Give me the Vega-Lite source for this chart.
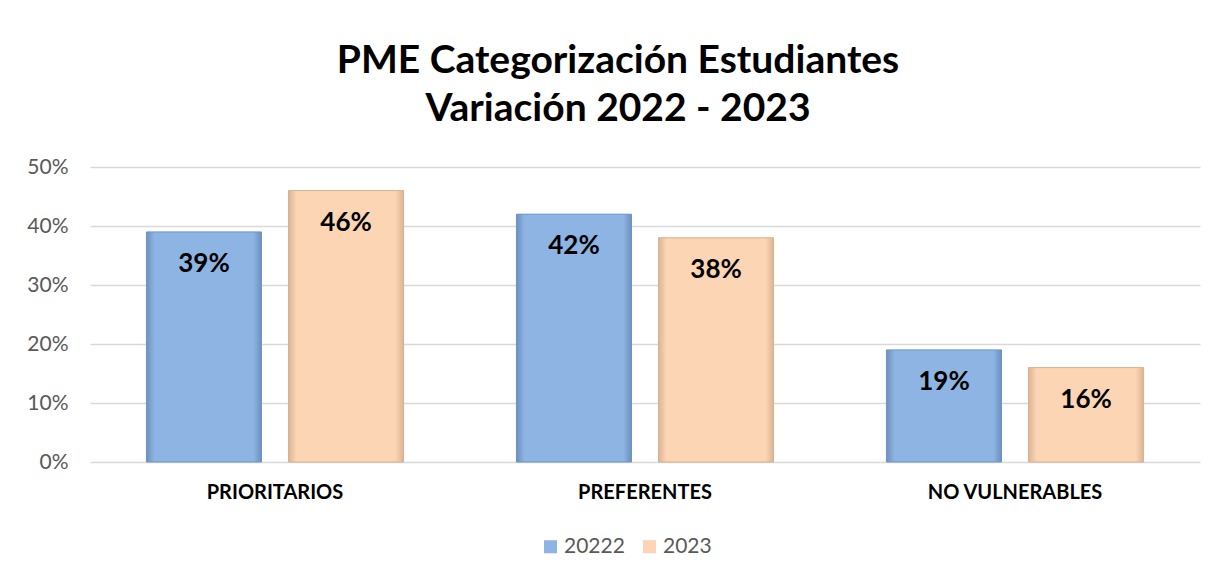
{
  "$schema": "https://vega.github.io/schema/vega-lite/v6.json",
  "width": 1110,
  "height": 295,
  "autosize": {"type": "none"},
  "padding": {"left": 90, "top": 167, "right": 25, "bottom": 118},
  "background": "white",
  "config": {"view": {"stroke": null}},
  "title": {
    "text": ["PME Categorización Estudiantes", "Variación 2022 - 2023"],
    "fontSize": 39,
    "font": "Lato",
    "fontWeight": "bold",
    "color": "#000000",
    "lineHeight": 48,
    "anchor": "middle",
    "dx": -27,
    "offset": 27
  },
  "data": {
    "values": [
      {"categoria": "PRIORITARIOS", "anio": "20222", "valor": 0.39},
      {"categoria": "PRIORITARIOS", "anio": "2023", "valor": 0.46},
      {"categoria": "PREFERENTES", "anio": "20222", "valor": 0.42},
      {"categoria": "PREFERENTES", "anio": "2023", "valor": 0.38},
      {"categoria": "NO VULNERABLES", "anio": "20222", "valor": 0.19},
      {"categoria": "NO VULNERABLES", "anio": "2023", "valor": 0.16}
    ]
  },
  "encoding": {
    "x": {
      "field": "categoria",
      "type": "nominal",
      "sort": ["PRIORITARIOS", "PREFERENTES", "NO VULNERABLES"],
      "scale": {"paddingInner": 0.305, "paddingOuter": 0.1525},
      "axis": {
        "title": null,
        "labelAngle": 0,
        "labelFont": "Lato",
        "labelFontSize": 20,
        "labelFontWeight": "bold",
        "labelColor": "#000000",
        "labelPadding": 20,
        "domain": false,
        "ticks": false
      }
    },
    "xOffset": {
      "field": "anio",
      "type": "nominal",
      "scale": {"paddingInner": 0.19, "paddingOuter": 0}
    },
    "y": {
      "field": "valor",
      "type": "quantitative",
      "scale": {"domain": [0, 0.5]},
      "axis": {
        "title": null,
        "format": ".0%",
        "values": [0, 0.1, 0.2, 0.3, 0.4, 0.5],
        "labelFont": "Lato",
        "labelFontSize": 21,
        "labelColor": "#595959",
        "labelPadding": 22,
        "domain": false,
        "ticks": false,
        "gridColor": "#d9d9d9",
        "gridWidth": 1.5
      }
    }
  },
  "layer": [
    {
      "mark": {"type": "bar"},
      "encoding": {
        "color": {
          "field": "anio",
          "type": "nominal",
          "scale": {"domain": ["20222", "2023"], "range": ["#8db4e2", "#fcd5b4"]},
          "legend": {
            "title": null,
            "orient": "none",
            "direction": "horizontal",
            "legendX": 450,
            "legendY": 369,
            "symbolType": "square",
            "symbolSize": 170,
            "symbolStrokeWidth": 1,
            "labelFont": "Lato",
            "labelFontSize": 21,
            "labelColor": "#595959",
            "columnPadding": 14,
            "labelOffset": 3
          }
        }
      }
    },
    {
      "transform": [{"filter": "datum.anio == '20222'"}],
      "mark": {
        "type": "bar",
        "stroke": "#6f95c6",
        "strokeWidth": 1,
        "color": {
          "gradient": "linear",
          "x1": 0, "y1": 0, "x2": 1, "y2": 0,
          "stops": [
            {"offset": 0, "color": "#6c90be"},
            {"offset": 0.07, "color": "#8db4e2"},
            {"offset": 0.93, "color": "#8db4e2"},
            {"offset": 1, "color": "#6c90be"}
          ]
        }
      }
    },
    {
      "transform": [{"filter": "datum.anio == '2023'"}],
      "mark": {
        "type": "bar",
        "stroke": "#d8b190",
        "strokeWidth": 1,
        "color": {
          "gradient": "linear",
          "x1": 0, "y1": 0, "x2": 1, "y2": 0,
          "stops": [
            {"offset": 0, "color": "#dcb493"},
            {"offset": 0.07, "color": "#fcd5b4"},
            {"offset": 0.93, "color": "#fcd5b4"},
            {"offset": 1, "color": "#dcb493"}
          ]
        }
      }
    },
    {
      "mark": {
        "type": "text",
        "font": "Lato",
        "fontSize": 26,
        "fontWeight": "bold",
        "color": "#000000",
        "baseline": "middle",
        "dy": 32
      },
      "encoding": {
        "text": {"field": "valor", "type": "quantitative", "format": ".0%"}
      }
    }
  ]
}
